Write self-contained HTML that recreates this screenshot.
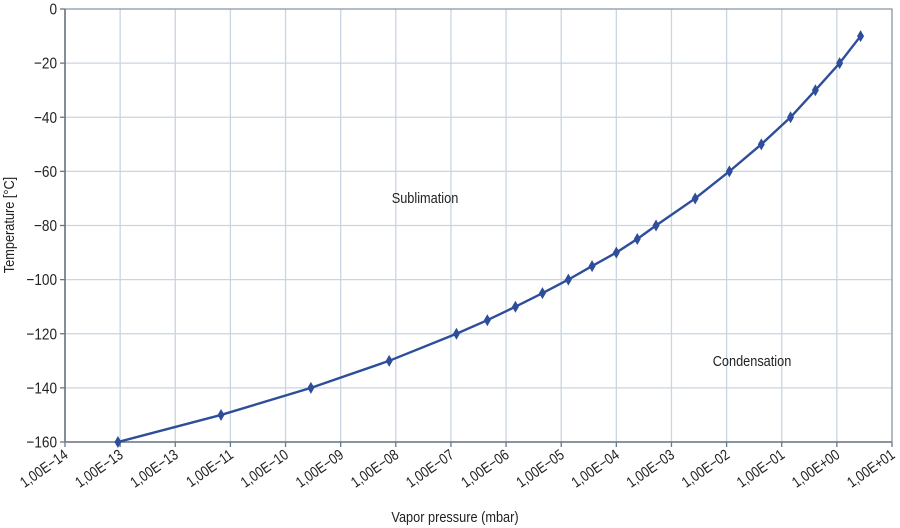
<!DOCTYPE html>
<html><head><meta charset="utf-8"><style>
html,body{margin:0;padding:0;background:#fff;}
svg{display:block;font-family:"Liberation Sans",sans-serif;}
</style></head><body>
<svg id="chart" width="900" height="528" viewBox="0 0 900 528">
<g id="grid"></g>
<g id="axes"></g>
<g id="series"></g>
<text transform="translate(425,203) scale(0.85,1)" font-size="15" text-anchor="middle" fill="#222">Sublimation</text>
<text transform="translate(752,366) scale(0.85,1)" font-size="15" text-anchor="middle" fill="#222">Condensation</text>
<text transform="translate(455,522) scale(0.85,1)" font-size="15" text-anchor="middle" fill="#222">Vapor pressure (mbar)</text>
<text transform="translate(14,225) rotate(-90) scale(0.85,1)" font-size="15" text-anchor="middle" fill="#222">Temperature [°C]</text>
</svg>
<script>
const xTickLabels = ["1,00E−14","1,00E−13","1,00E−13","1,00E−11","1,00E−10","1,00E−09","1,00E−08","1,00E−07","1,00E−06","1,00E−05","1,00E−04","1,00E−03","1,00E−02","1,00E−01","1,00E+00","1,00E+01"];
const yTicks = [0,-20,-40,-60,-80,-100,-120,-140,-160];
const logPressure = [-13.04,-11.17,-9.54,-8.12,-6.9,-6.34,-5.83,-5.34,-4.87,-4.44,-4.0,-3.62,-3.28,-2.57,-1.95,-1.37,-0.84,-0.39,0.05,0.43];
const temperature = [-160,-150,-140,-130,-120,-115,-110,-105,-100,-95,-90,-85,-80,-70,-60,-50,-40,-30,-20,-10];

const NS="http://www.w3.org/2000/svg";
const L=65,R=892,T=9,B=442;
const xMin=-14,xMax=1,yMin=-160,yMax=0;
const xs=v=>L+(v-xMin)/(xMax-xMin)*(R-L);
const ys=v=>B-(v-yMin)/(yMax-yMin)*(B-T);
function mk(tag,attrs,parent){const e=document.createElementNS(NS,tag);for(const k in attrs)e.setAttribute(k,attrs[k]);parent.appendChild(e);return e;}
const grid=document.getElementById('grid'),axes=document.getElementById('axes'),ser=document.getElementById('series');

for(let i=0;i<xTickLabels.length;i++){
  const x=xs(xMin+i);
  if(i>0){const g=mk('line',{x1:x,x2:x,y1:T,y2:B,stroke:'#c9d5e2','stroke-width':1.3},grid);
  
  }
  const tk=mk('line',{x1:x,x2:x,y1:B,y2:B+5,stroke:'#6b7784','stroke-width':1.3},axes);
  
  
  const t=mk('text',{x:0,y:0,'font-size':15,'text-anchor':'end',fill:'#222',transform:`translate(${x+4},${B+15}) rotate(-35) scale(0.84,1)`},axes);
  t.textContent=xTickLabels[i];
  
  
}
yTicks.forEach(v=>{
  const y=ys(v);
  if(v!==yMin){const g=mk('line',{x1:L,x2:R,y1:y,y2:y,stroke:'#c9d5e2','stroke-width':1.3},grid);
  
  }
  const tk=mk('line',{x1:L-5,x2:L,y1:y,y2:y,stroke:'#6b7784','stroke-width':1.3},axes);
  
  
  const t=mk('text',{x:0,y:0,'font-size':16,'text-anchor':'end',fill:'#222',transform:`translate(${L-8},${y+5.5}) scale(0.85,1)`},axes);
  t.textContent=v===0?'0':'−'+Math.abs(v);
  
  
});
const fr=mk('rect',{x:L,y:T,width:R-L,height:B-T,fill:'none',stroke:'#8a96a3','stroke-width':1.2},axes);


const ax1=mk('line',{x1:L,x2:R,y1:B,y2:B,stroke:'#6b7784','stroke-width':1.6},axes);


const ax2=mk('line',{x1:L,x2:L,y1:T,y2:B,stroke:'#6b7784','stroke-width':1.6},axes);



const pts=logPressure.map((p,i)=>[xs(p),ys(temperature[i])]);
const line=mk('polyline',{points:pts.map(p=>p.join(',')).join(' '),fill:'none',stroke:'#2e4d9b','stroke-width':2.4},ser);


pts.forEach(([x,y])=>{
  const d=mk('polygon',{points:`${x},${y-6} ${x+3.5},${y} ${x},${y+6} ${x-3.5},${y}`,fill:'#2e4d9b'},ser);
  
  
});
</script>
</body></html>
